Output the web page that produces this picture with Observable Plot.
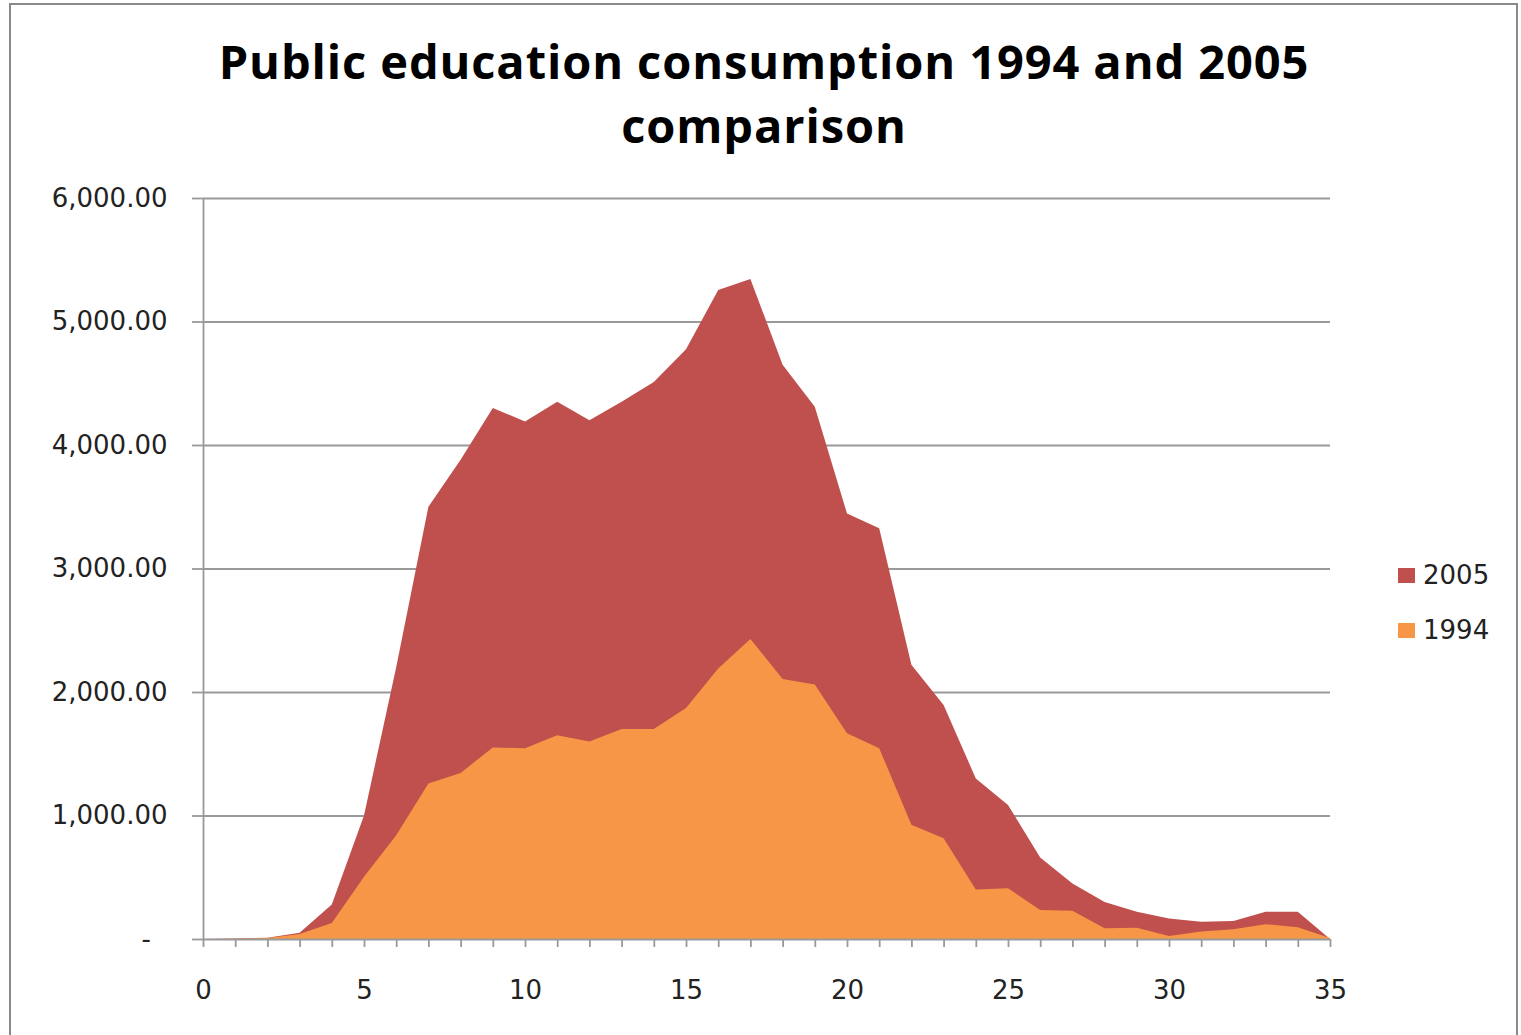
<!DOCTYPE html>
<html>
<head>
<meta charset="utf-8">
<script src="https://cdn.jsdelivr.net/npm/d3@7"></script>
<script src="https://cdn.jsdelivr.net/npm/@observablehq/plot@0.6"></script>
<style>
  body { margin: 0; background: #fff; }
  #wrap { position: relative; width: 1521px; height: 1035px; overflow: hidden; background: #fff; font-family: "DejaVu Sans", sans-serif; }
  #border { position: absolute; left: 9px; top: 3px; width: 1509px; height: 1060px; border: 2px solid #8a8a8a; box-sizing: border-box; }
  #title { position: absolute; left: 0; width: 1528px; top: 29px; text-align: center; font-family: "Open Sans", sans-serif; font-weight: 700; font-size: 47px; letter-spacing: 0.9px; line-height: 64px; color: #000; }
  #chart { position: absolute; left: 0; top: 170px; }
  .leg { position: absolute; left: 1398px; display: flex; align-items: center; font-size: 26px; color: #222; }
  .sw { width: 17px; height: 15px; margin-right: 8px; }
</style>
</head>
<body>
<div id="wrap">
  <div id="border"></div>
  <div id="title">Public education consumption 1994 and 2005<br>comparison</div>
  <div id="chart"></div>
  <div id="legend"></div>
</div>
<script>
// x categories (age / index)
const xValues = d3.range(0, 36);
// series values
const values2005 = [0, 5, 10, 50, 280, 1000, 2200, 3500, 3880, 4300, 4190, 4350, 4200, 4350, 4510, 4775, 5255, 5345, 4650, 4310, 3445, 3325, 2220, 1895, 1300, 1085, 660, 450, 300, 220, 165, 140, 145, 220, 220, null];
const values1994 = [0, 3, 8, 40, 130, 505, 840, 1260, 1345, 1550, 1545, 1650, 1600, 1700, 1700, 1870, 2190, 2430, 2105, 2060, 1665, 1545, 925, 815, 400, 410, 235, 228, 88, 92, 25, 60, 78, 120, 95, 8];
const seriesNames = ["2005", "1994"];
const seriesColors = ["#C0504D", "#F79646"];
const yTicks = [0, 1000, 2000, 3000, 4000, 5000, 6000];
const xLabelTicks = [0, 5, 10, 15, 20, 25, 30, 35];

const d2005 = xValues.map((x, i) => ({x, y: values2005[i]}));
const d1994 = xValues.map((x, i) => ({x, y: values1994[i]}));

const fmt = d3.format(",.2f");
const chart = Plot.plot({
  width: 1521,
  height: 865,
  marginLeft: 203,
  marginRight: 191,
  marginTop: 28,
  marginBottom: 96,
  style: { fontFamily: "DejaVu Sans, sans-serif", fontSize: "26px", color: "#222", background: "transparent" },
  x: { domain: [0, 35] },
  y: { domain: [0, 6000] },
  marks: [
    Plot.ruleY(yTicks.slice(1), { stroke: "#999", strokeWidth: 1.8, strokeOpacity: 1 }),
    Plot.areaY(d2005, { x: "x", y: "y", fill: seriesColors[0], curve: "linear" }),
    Plot.areaY(d1994, { x: "x", y: "y", fill: seriesColors[1], curve: "linear" }),
    Plot.ruleY([0], { stroke: "#999", strokeWidth: 1.8 }),
    Plot.ruleX([0], { stroke: "#999", strokeWidth: 1.8 }),
    Plot.axisY({ ticks: yTicks, tickSize: 11, tickPadding: 25, stroke: "#999", strokeWidth: 1.8,
      tickFormat: d => d === 0 ? "-\u2007" : fmt(d), fill: "#222", fontSize: 26, label: null }),
    Plot.axisX({ ticks: xValues, tickSize: 8, tickPadding: 0, stroke: "#999", strokeWidth: 1.8,
      tickFormat: () => "", label: null }),
    Plot.axisX({ ticks: xLabelTicks, tickSize: 0, tickPadding: 41, tickFormat: d => String(d), fill: "#222", fontSize: 26, label: null })
  ]
});
document.getElementById("chart").appendChild(chart);

const legend = document.getElementById("legend");
const legTops = [560, 615];
seriesNames.forEach((name, i) => {
  const row = document.createElement("div");
  row.className = "leg";
  row.style.top = legTops[i] + "px";
  const sw = document.createElement("div");
  sw.className = "sw";
  sw.style.background = seriesColors[i];
  row.appendChild(sw);
  const t = document.createElement("span");
  t.textContent = name;
  row.appendChild(t);
  legend.appendChild(row);
});
</script>
</body>
</html>
